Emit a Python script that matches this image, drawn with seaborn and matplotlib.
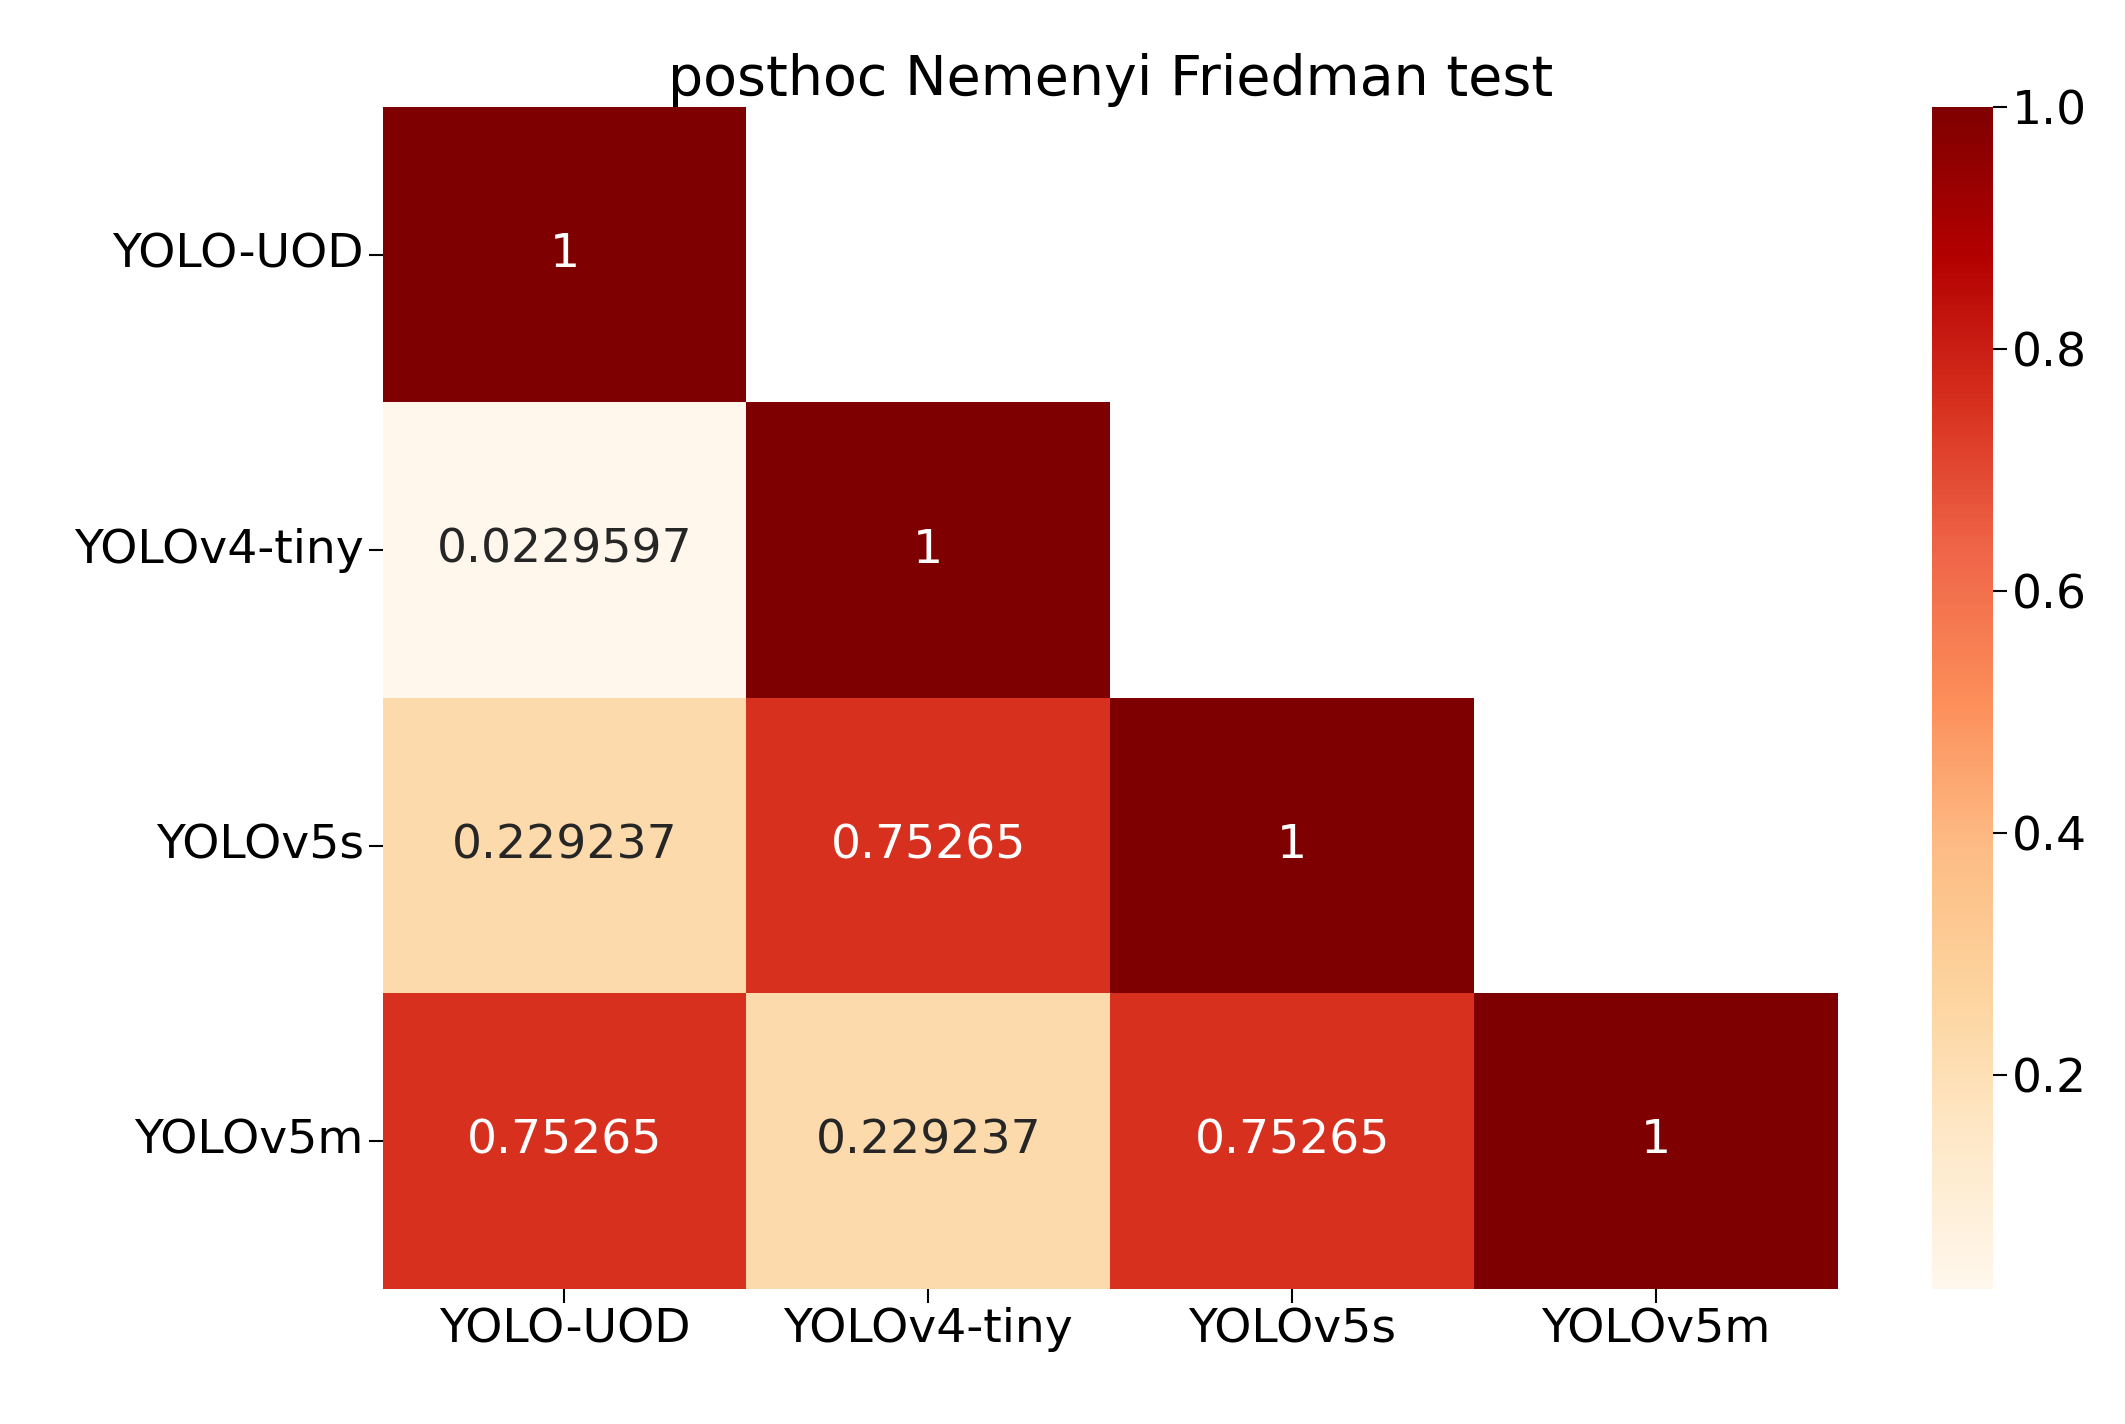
import numpy as np
import pandas as pd
import seaborn as sns
import matplotlib.pyplot as plt

models = ["YOLO-UOD", "YOLOv4-tiny", "YOLOv5s", "YOLOv5m"]
row_uod = [1, 0.0229597, 0.229237, 0.75265]
row_v4 = [0.0229597, 1, 0.75265, 0.229237]
row_v5s = [0.229237, 0.75265, 1, 0.75265]
row_v5m = [0.75265, 0.229237, 0.75265, 1]

df = pd.DataFrame([row_uod, row_v4, row_v5s, row_v5m], index=models, columns=models)
mask = np.triu(np.ones(df.shape, dtype=bool), k=1)

fig = plt.figure(figsize=(21.25, 14.24), dpi=100)
ax = fig.add_axes([0.18, 0.095, 0.685, 0.83])
cax = fig.add_axes([0.909, 0.095, 0.029, 0.83])

sns.heatmap(df, mask=mask, annot=True, fmt='g', cmap='OrRd', ax=ax, cbar_ax=cax,
            annot_kws={'size': 34})
ax.set_title('posthoc Nemenyi Friedman test', fontsize=40)
ax.tick_params(labelsize=34, length=10, width=1.5)
ax.set_yticklabels(models, rotation=0)
ax.set_xticklabels(models, rotation=0)
cax.tick_params(labelsize=34, length=10, width=1.5)
cax.set_yticks([0.2, 0.4, 0.6, 0.8, 1.0])

plt.savefig('out.png', dpi=100)
